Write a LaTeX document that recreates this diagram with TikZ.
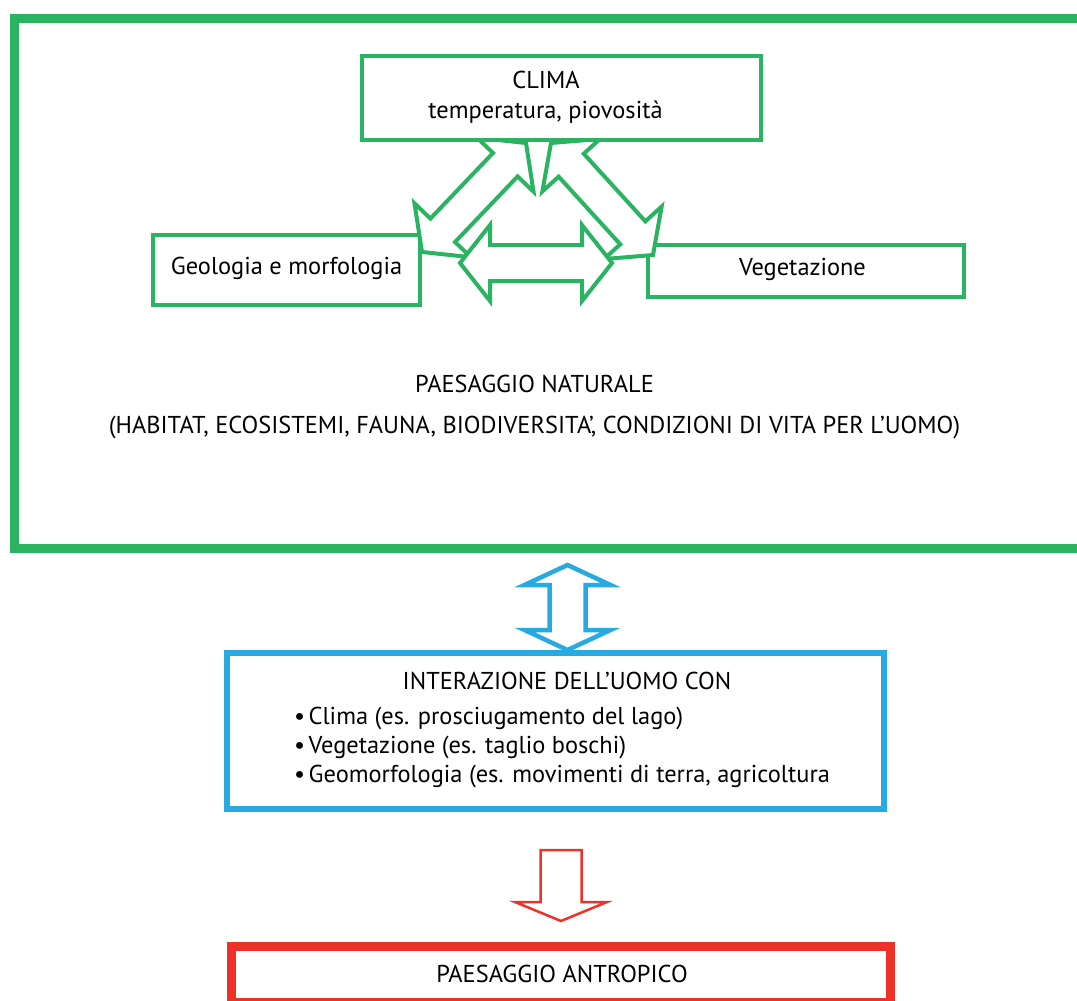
\documentclass[tikz,border=0pt]{standalone}
\usepackage{fontspec}
\setmainfont{PT Sans}
\usetikzlibrary{calc}
\definecolor{cgreen}{RGB}{42,180,98}
\definecolor{cblue}{RGB}{39,170,225}
\definecolor{cred}{RGB}{238,50,40}

% double block arrow: #1 name, #2 style, #3 tip1, #4 tip2, #5 shaft half width, #6 head half width, #7 head length
\newcommand{\dblarrow}[7]{%
  \coordinate (#1-ha) at ($(#3)!#7!(#4)$);
  \coordinate (#1-hb) at ($(#4)!#7!(#3)$);
  \draw[#2] (#3)
    -- ($(#1-ha)!#6!90:(#4)$) -- ($(#1-ha)!#5!90:(#4)$)
    -- ($(#1-hb)!#5!-90:(#3)$) -- ($(#1-hb)!#6!-90:(#3)$)
    -- (#4)
    -- ($(#1-hb)!#6!90:(#3)$) -- ($(#1-hb)!#5!90:(#3)$)
    -- ($(#1-ha)!#5!-90:(#4)$) -- ($(#1-ha)!#6!-90:(#4)$)
    -- cycle;}
% single block arrow: #1 name, #2 style, #3 tail centre, #4 tip, #5 shaft half width, #6 head half width, #7 head length
\newcommand{\snglarrow}[7]{%
  \coordinate (#1-h) at ($(#4)!#7!(#3)$);
  \draw[#2] ($(#3)!#5!90:(#4)$)
    -- ($(#1-h)!#5!-90:(#3)$) -- ($(#1-h)!#6!-90:(#3)$)
    -- (#4)
    -- ($(#1-h)!#6!90:(#3)$) -- ($(#1-h)!#5!90:(#3)$)
    -- ($(#3)!#5!-90:(#4)$)
    -- cycle;}

\tikzset{
  every node/.style={outer sep=0pt},
  gbox/.style={draw=cgreen, line width=4pt, fill=white, rectangle, inner sep=0pt},
  txt/.style={font=\fontsize{24.4}{28}\selectfont, inner sep=0pt, anchor=base, text=black},
  garrow/.style={draw=cgreen, line width=4pt, fill=white, line join=miter},
  barrow/.style={draw=cblue, line width=4.5pt, fill=white, line join=miter},
  rarrow/.style={draw=cred, line width=2.5pt, fill=white, line join=miter},
}

\begin{document}
\begin{tikzpicture}[x=1pt, y=-1pt]
\useasboundingbox (0,0) rectangle (1077,1001);
\clip (0,0) rectangle (1077,1001);
\fill[white] (0,0) rectangle (1077,1001);

% big frame: paesaggio naturale
\node[draw=cgreen, line width=9pt, rectangle, inner sep=0pt, minimum width=1100pt, minimum height=530pt, anchor=north west] (naturale) at (14.5,18.5) {};

% boxes
\node[gbox, minimum width=267pt, minimum height=70pt] (geo) at (286.5,270) {};
\node[gbox, minimum width=316pt, minimum height=52pt] (veg) at (806,271) {};

% connectors among natural factors
\coordinate (aG) at (422,252);
\coordinate (aC) at (526,143);
\coordinate (bV) at (653,255);
\coordinate (bC) at (551,143);
\coordinate (cG) at (460,263);
\coordinate (cV) at (612,263);
\dblarrow{arA}{garrow}{aG}{aC}{17pt}{39pt}{30pt}
\dblarrow{arB}{garrow}{bV}{bC}{17pt}{39pt}{30pt}
\dblarrow{arC}{garrow}{cG}{cV}{18pt}{38pt}{30pt}

\node[gbox, minimum width=399pt, minimum height=84pt] (clima) at (561.5,98) {};

% lower boxes
\node[draw=cblue, line width=6.5pt, rectangle, inner sep=0pt, minimum width=657pt, minimum height=156pt] (inter) at (555.5,731) {};
\node[draw=cred, line width=9pt, rectangle, inner sep=0pt, minimum width=659pt, minimum height=55.5pt] (antro) at (561,974.25) {};

% vertical connectors
\coordinate (dN) at (567.5,565);
\coordinate (dI) at (567.5,650);
\dblarrow{arD}{barrow}{dN}{dI}{18pt}{43pt}{20pt}
\coordinate (eI) at (561,850);
\coordinate (eA) at (561,921);
\snglarrow{arE}{rarrow}{eI}{eA}{20.5pt}{46pt}{19pt}

% texts
\node[txt] (tclima) at (546,88) {CLIMA};
\node[txt] (ttemp) at (545.5,118) {temperatura, piovosità};
\node[txt] (tgeo) at (286.5,274) {Geologia e morfologia};
\node[txt] (tveg) at (802.5,275) {Vegetazione};
\node[txt] (tnat) at (534.5,392) {PAESAGGIO NATURALE};
\node[txt] (tnat2) at (534.5,433) {(HABITAT, ECOSISTEMI, FAUNA, BIODIVERSITA’, CONDIZIONI DI VITA PER L’UOMO)};
\node[txt] (tint) at (567,689) {INTERAZIONE DELL’UOMO CON};
\node[txt, anchor=base west] (tb1) at (294,724) {•\hspace{0.15em}Clima (es. prosciugamento del lago)};
\node[txt, anchor=base west] (tb2) at (294,753) {•\hspace{0.15em}Vegetazione (es. taglio boschi)};
\node[txt, anchor=base west] (tb3) at (294,782) {•\hspace{0.15em}Geomorfologia (es. movimenti di terra, agricoltura};
\node[txt] (tant) at (562,982.5) {PAESAGGIO ANTROPICO};
\end{tikzpicture}
\end{document}
